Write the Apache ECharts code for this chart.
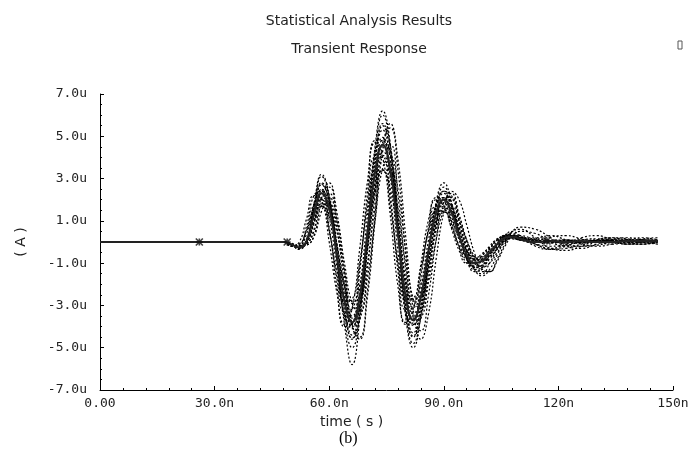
<!DOCTYPE html>
<html>
<head>
<meta charset="utf-8">
<script src="https://cdn.jsdelivr.net/npm/echarts@6/dist/echarts.min.js"></script>
<style>
html,body{margin:0;padding:0;background:#fff;}
#chart{width:694px;height:460px;}
</style>
</head>
<body>
<div id="chart"></div>
<script>
// ---- data (time in ns, current in uA) ----
const times = [0, 48, 50, 52, 54, 56, 58, 60, 62, 64, 66, 68, 70, 72, 74, 76, 78, 80, 82, 84, 86, 88, 90, 92, 94, 96, 98, 100, 102, 104, 106, 108, 110, 114, 118, 122, 126, 130, 134, 138, 142, 146];

const nominal = [0, 0, -0.1, -0.25, 0.0, 1.3, 2.3, 1.6, -0.6, -2.8, -3.8, -2.6, 0.4, 3.3, 4.6, 3.4, 0.4, -2.6, -3.7, -2.6, -0.4, 1.4, 2.0, 1.4, 0.3, -0.6, -1.0, -0.9, -0.5, -0.1, 0.2, 0.25, 0.15, 0.0, 0.05, 0.0, 0.05, 0.0, 0.0, 0.05, 0.05, 0.05];

const run1 = [0, 0, -0.1, -0.3, 0.0, 1.7, 3.1, 2.1, -0.8, -3.7, -5.0, -3.4, 0.5, 4.3, 6.0, 4.4, 0.5, -3.4, -4.8, -3.4, -0.5, 1.8, 2.6, 1.8, 0.4, -0.8, -1.3, -1.2, -0.6, -0.1, 0.3, 0.35, 0.2, 0.2, 0.3, 0.1, -0.1, -0.2, -0.1, 0.1, 0.2, 0.1];
const run2 = [0, 0, -0.1, -0.2, 0.0, 1.0, 1.7, 1.2, -0.4, -2.1, -2.9, -2.0, 0.3, 2.5, 3.4, 2.5, 0.3, -2.0, -2.8, -2.0, -0.3, 1.0, 1.5, 1.0, 0.2, -0.4, -0.7, -0.7, -0.4, -0.1, 0.15, 0.2, 0.1, -0.1, -0.2, -0.15, 0.0, 0.1, 0.05, -0.1, -0.1, 0.0];
const run3 = [0, 0, -0.1, -0.2, -0.1, 0.6, 2.1, 2.3, 0.7, -2.0, -3.9, -3.7, -1.3, 2.2, 4.6, 4.6, 2.2, -1.3, -3.7, -3.6, -1.7, 0.7, 2.0, 2.0, 1.0, -0.2, -1.0, -1.1, -0.8, -0.3, 0.1, 0.3, 0.25, 0.05, 0.0, 0.1, 0.05, 0.0, 0.1, 0.05, 0.1, 0.1];
const run4 = [0, 0, -0.2, -0.15, 0.55, 1.8, 2.0, 0.55, -1.7, -3.3, -3.2, -1.1, 1.9, 4.0, 4.0, 1.9, -1.1, -3.2, -3.1, -1.4, 0.55, 1.7, 1.7, 0.85, -0.2, -0.85, -0.95, -0.65, -0.3, 0.1, 0.25, 0.2, 0.1, 0.0, -0.05, 0.05, 0.0, 0.0, 0.05, 0.0, 0.0, 0.05];
const run5 = [0, 0, -0.1, -0.3, 0.05, 1.5, 2.7, 1.9, -0.7, -3.2, -4.4, -3.0, 0.4, 3.8, 5.3, 3.9, 0.4, -3.0, -4.3, -3.0, -0.5, 1.6, 2.3, 1.6, 0.3, -0.7, -1.2, -1.1, -0.6, -0.1, 0.25, 0.3, 0.2, 0.1, 0.25, 0.3, 0.15, 0.0, -0.1, 0.0, 0.15, 0.2];
const run6 = [0, 0, -0.1, -0.2, -0.05, 0.9, 1.8, 1.6, -0.1, -2.0, -3.2, -2.6, -0.3, 2.3, 3.8, 3.2, 0.9, -1.8, -3.1, -2.5, -0.8, 0.9, 1.6, 1.4, 0.5, -0.4, -0.85, -0.85, -0.5, -0.15, 0.15, 0.25, 0.15, 0.05, 0.0, 0.05, 0.0, 0.05, 0.0, 0.05, 0.0, 0.05];
const run7 = [0, 0, -0.1, -0.35, 0.0, 1.8, 3.2, 2.2, -0.8, -3.9, -5.8, -3.6, 0.5, 4.5, 6.2, 4.6, 0.5, -3.5, -5.0, -3.5, -0.6, 1.9, 2.8, 1.9, 0.4, -0.8, -1.4, -1.3, -0.7, -0.1, 0.35, 0.4, 0.25, -0.2, -0.35, -0.3, -0.1, 0.1, 0.2, 0.15, 0.0, -0.1];
const run8 = [0, 0, -0.05, -0.2, -0.15, 0.3, 1.9, 2.8, 1.4, -1.3, -3.9, -4.5, -2.3, 1.3, 4.7, 5.4, 3.4, -0.5, -3.6, -4.2, -2.5, 0.1, 1.9, 2.3, 1.3, 0.1, -0.8, -1.2, -1.0, -0.5, 0.0, 0.25, 0.3, 0.1, 0.0, 0.05, 0.1, 0.05, 0.0, 0.05, 0.1, 0.05];
const run9 = [0, 0, -0.1, -0.2, -0.1, 0.5, 1.7, 1.8, 0.5, -1.4, -2.8, -2.7, -1.0, 1.6, 3.4, 3.4, 1.6, -1.0, -2.7, -2.6, -1.2, 0.5, 1.4, 1.4, 0.7, -0.15, -0.7, -0.8, -0.55, -0.25, 0.05, 0.2, 0.2, 0.05, 0.0, 0.05, 0.0, 0.0, 0.05, 0.0, 0.05, 0.0];
const run10 = [0, 0, -0.2, -0.2, 0.7, 2.2, 2.4, 0.7, -2.1, -4.0, -3.9, -1.4, 2.3, 4.8, 4.8, 2.3, -1.4, -3.9, -3.8, -1.7, 0.7, 2.1, 2.1, 1.0, -0.25, -1.0, -1.15, -0.8, -0.35, 0.1, 0.3, 0.25, 0.1, 0.15, 0.05, -0.1, -0.2, -0.15, 0.0, 0.1, 0.1, 0.05];
const run11 = [0, 0, -0.1, -0.2, 0.0, 1.2, 2.4, 1.9, -0.2, -2.6, -4.0, -3.1, -0.4, 2.8, 4.8, 4.2, 1.4, -2.0, -3.9, -3.4, -1.4, 0.8, 2.1, 2.1, 1.2, 0.0, -0.9, -1.4, -1.4, -0.8, -0.1, 0.5, 0.7, 0.6, 0.2, -0.2, -0.3, -0.1, 0.1, 0.2, 0.1, -0.1];
const run12 = [0, 0, -0.1, -0.2, -0.05, 1.0, 2.0, 1.5, -0.4, -2.5, -3.5, -2.6, 0.0, 2.9, 4.1, 3.4, 0.8, -2.3, -3.6, -3.0, -1.0, 1.0, 1.9, 1.7, 0.7, -0.5, -1.3, -1.6, -1.3, -0.6, 0.1, 0.5, 0.6, 0.2, -0.3, -0.4, -0.2, 0.1, 0.2, 0.0, -0.1, 0.0];
const run13 = [0, 0, -0.1, -0.25, 0.1, 1.6, 2.8, 2.2, -0.1, -2.9, -4.6, -3.6, -0.2, 3.6, 5.6, 4.6, 1.0, -2.9, -4.5, -3.6, -1.1, 1.3, 2.4, 2.2, 1.0, -0.4, -1.3, -1.5, -1.0, -0.3, 0.3, 0.5, 0.3, -0.1, -0.3, -0.1, 0.2, 0.3, 0.1, -0.1, -0.1, 0.05];
const run14 = [0, 0, -0.05, -0.2, -0.15, 0.25, 1.45, 2.1, 1.1, -1.0, -2.9, -3.3, -1.7, 1.0, 3.5, 4.0, 2.5, -0.35, -2.7, -3.15, -1.9, 0.1, 1.45, 1.7, 1.0, 0.1, -0.65, -0.9, -0.7, -0.35, 0.0, 0.2, 0.2, 0.1, 0.0, -0.05, 0.0, 0.05, 0.1, 0.05, 0.0, 0.05];
const run15 = [0, 0, -0.2, -0.05, 1.05, 2.2, 2.0, 0.0, -2.4, -3.9, -3.15, -0.3, 2.85, 4.7, 4.0, 1.25, -2.1, -3.8, -3.15, -1.05, 1.05, 2.0, 1.7, 0.65, -0.4, -1.0, -1.0, -0.65, -0.2, 0.15, 0.25, 0.2, 0.1, 0.0, 0.05, 0.0, -0.05, 0.0, 0.05, 0.0, 0.05, 0.1];
const run16 = [0, 0, -0.1, -0.25, -0.05, 0.9, 2.4, 2.6, 1.0, -1.6, -4.0, -4.6, -2.6, 1.0, 4.3, 5.6, 3.9, 0.3, -3.2, -4.6, -3.4, -0.8, 1.4, 2.4, 2.0, 0.8, -0.5, -1.3, -1.4, -0.9, -0.2, 0.3, 0.5, 0.4, 0.0, -0.2, -0.2, 0.0, 0.15, 0.1, 0.0, 0.0];
const run17 = [0, 0, -0.15, -0.1, 0.5, 1.5, 1.7, 0.5, -1.45, -2.8, -2.7, -0.95, 1.6, 3.35, 3.35, 1.6, -0.95, -2.7, -2.65, -1.2, 0.5, 1.45, 1.45, 0.7, -0.15, -0.7, -0.8, -0.55, -0.25, 0.1, 0.2, 0.15, 0.1, 0.0, 0.05, 0.0, 0.0, 0.05, 0.0, -0.05, 0.0, 0.05];
const run18 = [0, 0, -0.1, -0.3, 0.0, 1.55, 2.75, 1.9, -0.7, -3.35, -4.55, -3.1, 0.5, 3.95, 5.5, 4.1, 0.5, -3.1, -4.45, -3.1, -0.5, 1.7, 2.4, 1.7, 0.35, -0.7, -1.2, -1.1, -0.6, -0.1, 0.25, 0.3, 0.2, -0.1, -0.35, -0.2, 0.1, 0.15, 0.0, -0.1, 0.0, 0.05];
const run19 = [0, 0, -0.1, -0.2, -0.05, 0.95, 2.1, 1.8, -0.1, -2.2, -3.6, -2.85, -0.4, 2.55, 4.3, 3.6, 1.15, -1.8, -3.4, -2.75, -0.95, 0.95, 1.8, 1.5, 0.55, -0.4, -0.85, -0.95, -0.55, -0.2, 0.1, 0.25, 0.2, 0.05, 0.1, 0.05, 0.0, 0.05, 0.1, 0.0, 0.05, 0.0];
const run20 = [0, 0, -0.15, -0.2, 0.35, 1.75, 2.5, 1.2, -1.2, -3.5, -4.1, -2.2, 1.2, 4.2, 4.95, 3.1, -0.45, -3.3, -3.95, -2.3, 0.1, 1.75, 2.1, 1.2, 0.1, -0.8, -1.1, -0.9, -0.45, 0.0, 0.3, 0.2, 0.1, 0.0, 0.05, 0.1, 0.0, 0.05, 0.0, 0.1, 0.05, 0.05];

const markerTimes = [26, 49, 117];
const markerValues = [0, 0, 0.05];

const xTicks = [0, 30, 60, 90, 120, 150];
const xTickLabels = ['0.00', '30.0n', '60.0n', '90.0n', '120n', '150n'];
const yTicks = [-7, -5, -3, -1, 1, 3, 5, 7];
const yTickLabels = ['-7.0u', '-5.0u', '-3.0u', '-1.0u', '1.0u', '3.0u', '5.0u', '7.0u'];
const yMinorTicks = [-6.5, -6, -5.5, -4.5, -4, -3.5, -2.5, -2, -1.5, -0.5, 0, 0.5, 1.5, 2, 2.5, 3.5, 4, 4.5, 5.5, 6, 6.5];

const runs = [run1, run2, run3, run4, run5, run6, run7, run8, run9, run10,
              run11, run12, run13, run14, run15, run16, run17, run18, run19, run20];

// ---- chart ----
const pairs = (vals) => times.map((t, i) => [t, vals[i]]);
const FONT = 'DejaVu Sans';
const MONO = 'DejaVu Sans Mono';

const series = runs.map((r, k) => ({
  type: 'line',
  name: 'run' + (k + 1),
  data: pairs(r),
  showSymbol: false,
  smooth: 0.5,
  silent: true,
  lineStyle: { color: '#000', width: 1.2, type: [2, 2] },
  z: 2
}));
series.push({
  type: 'line',
  name: 'nominal',
  data: pairs(nominal),
  showSymbol: false,
  smooth: 0.5,
  silent: true,
  lineStyle: { color: '#222', width: 2, type: 'solid' },
  z: 3
});
series.push({
  type: 'scatter',
  name: 'markers',
  data: markerTimes.map((t, i) => [t, markerValues[i]]),
  symbol: 'path://M0,0L10,10M10,0L0,10M5,0L5,10M0,5L10,5',
  symbolSize: 7,
  itemStyle: { color: 'none', borderColor: '#111', borderWidth: 1.6 },
  z: 4
});

const chart = echarts.init(document.getElementById('chart'), null, { renderer: 'canvas' });
chart.setOption({
  animation: false,
  backgroundColor: '#fff',
  title: [
    { text: 'Statistical Analysis Results', left: 354, top: 9, textAlign: 'center',
      textStyle: { fontFamily: FONT, fontSize: 14, fontWeight: 'normal', color: '#222' } },
    { text: 'Transient Response', left: 354, top: 37, textAlign: 'center',
      textStyle: { fontFamily: FONT, fontSize: 14, fontWeight: 'normal', color: '#222' } }
  ],
  grid: { left: 100, right: 21, top: 94, bottom: 70, containLabel: false },
  xAxis: {
    type: 'value', min: 0, max: 150, interval: 30,
    name: 'time ( s )', nameLocation: 'middle', nameGap: 21,
    nameTextStyle: { fontFamily: FONT, fontSize: 14, color: '#222', padding: [0, 70, 0, 0] },
    axisLine: { show: true, onZero: false, lineStyle: { color: '#000', width: 1 } },
    axisTick: { show: true, inside: true, length: 4, lineStyle: { color: '#000' } },
    minorTick: { show: true, splitNumber: 5, length: 2, lineStyle: { color: '#000' } },
    splitLine: { show: false },
    axisLabel: {
      fontFamily: MONO, fontSize: 13, color: '#222', margin: 7,
      formatter: (v) => { const i = xTicks.indexOf(v); return i >= 0 ? xTickLabels[i] : ''; }
    }
  },
  yAxis: [{
    type: 'value', min: -7, max: 7,
    name: '( A )', nameLocation: 'middle', nameGap: 72, nameRotate: 90,
    nameTextStyle: { fontFamily: FONT, fontSize: 14, color: '#222' },
    axisLine: { show: true, onZero: false, lineStyle: { color: '#000', width: 1 } },
    axisTick: { show: true, inside: true, length: 4, customValues: yTicks, lineStyle: { color: '#000' } },
    splitLine: { show: false },
    axisLabel: {
      fontFamily: MONO, fontSize: 13, color: '#222', margin: 13, padding: [0, 0, 5, 0],
      customValues: yTicks,
      formatter: (v) => { const i = yTicks.indexOf(v); return i >= 0 ? yTickLabels[i] : ''; }
    }
  }, {
    type: 'value', min: -7, max: 7, position: 'left',
    axisLine: { show: false },
    axisTick: { show: true, inside: true, length: 2, customValues: yMinorTicks, lineStyle: { color: '#000' } },
    axisLabel: { show: false },
    splitLine: { show: false }
  }],
  graphic: [
    { type: 'text', left: 339, top: 431,
      style: { text: '(b)', font: '16px "Liberation Serif"', fill: '#000' } },
    { type: 'rect', shape: { x: 678, y: 41, width: 4, height: 8 },
      style: { fill: '#fff', stroke: '#555', lineWidth: 1 } }
  ],
  series: series
});
</script>
</body>
</html>
